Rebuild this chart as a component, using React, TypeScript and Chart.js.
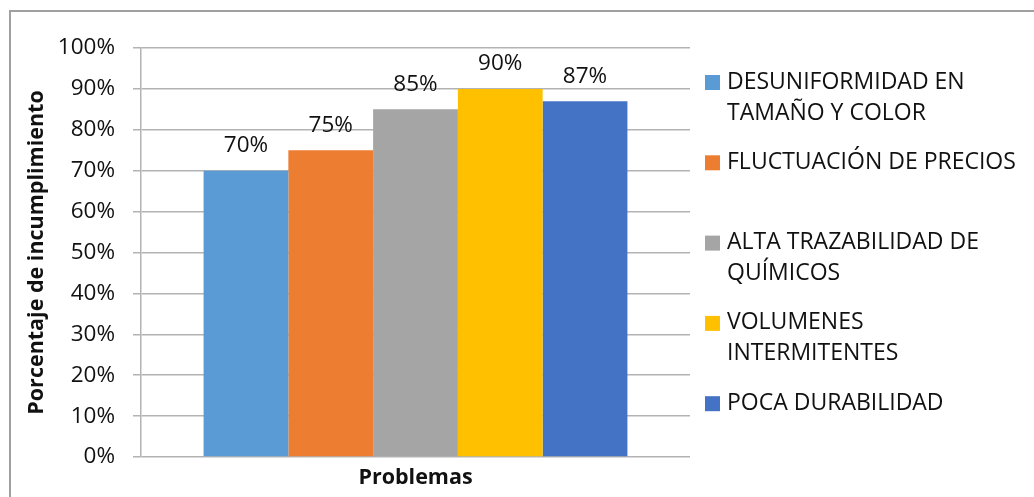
import React, { useEffect, useRef } from "react";
import { Chart, registerables } from "chart.js";

Chart.register(...registerables);

const categories = [""];
const seriesLabels = [
  "DESUNIFORMIDAD EN TAMAÑO Y COLOR",
  "FLUCTUACIÓN DE PRECIOS",
  "ALTA TRAZABILIDAD DE QUÍMICOS",
  "VOLUMENES INTERMITENTES",
  "POCA DURABILIDAD",
];
const legendLines = [
  ["DESUNIFORMIDAD EN", "TAMAÑO Y COLOR"],
  ["FLUCTUACIÓN DE PRECIOS"],
  ["ALTA TRAZABILIDAD DE", "QUÍMICOS"],
  ["VOLUMENES", "INTERMITENTES"],
  ["POCA DURABILIDAD"],
];
const seriesValues = [0.7, 0.75, 0.85, 0.9, 0.87];
const seriesColors = ["#5B9BD5", "#ED7D31", "#A5A5A5", "#FFC000", "#4472C4"];
const yTitle = "Porcentaje de incumplimiento";
const xTitle = "Problemas";

const FONT = "'Open Sans', 'Noto Sans', sans-serif";
const TEXT = "#111111";
const GRID = "#b3b3b3";

const labelPlugin = {
  id: "barLabels",
  afterDatasetsDraw(chart: any) {
    const ctx = chart.ctx;
    ctx.save();
    ctx.font = `22.5px ${FONT}`;
    ctx.fillStyle = TEXT;
    ctx.textAlign = "center";
    ctx.textBaseline = "middle";
    chart.data.datasets.forEach((ds: any, i: number) => {
      const meta = chart.getDatasetMeta(i);
      meta.data.forEach((bar: any, j: number) => {
        const v = ds.data[j];
        ctx.fillText(Math.round(v * 100) + "%", bar.x, bar.y - 25);
      });
    });
    ctx.restore();
  },
};

const legendPlugin = {
  id: "sideLegend",
  afterDraw(chart: any) {
    const ctx = chart.ctx;
    ctx.save();
    ctx.font = `23px ${FONT}`;
    ctx.textBaseline = "middle";
    ctx.textAlign = "left";
    const x0 = chart.chartArea.right + 15;
    const y0 = 82;
    const slot = 80.3;
    const lineH = 31;
    legendLines.forEach((lines, i) => {
      const y = y0 + i * slot;
      ctx.fillStyle = seriesColors[i];
      ctx.fillRect(x0, y - 7, 15, 15);
      ctx.fillStyle = TEXT;
      lines.forEach((t, k) => ctx.fillText(t, x0 + 22, y + k * lineH));
    });
    ctx.restore();
  },
};

export default function App() {
  const ref = useRef<HTMLCanvasElement>(null);
  useEffect(() => {
    const chart = new Chart(ref.current as HTMLCanvasElement, {
      type: "bar",
      data: {
        labels: categories,
        datasets: seriesLabels.map((l, i) => ({
          label: l,
          data: [seriesValues[i]],
          backgroundColor: seriesColors[i],
          borderWidth: 0,
          barPercentage: 1,
          categoryPercentage: 0.772,
        })),
      },
      options: {
        animation: false,
        responsive: true,
        maintainAspectRatio: false,
        layout: { padding: { left: 0, right: 344, top: 48, bottom: 0 } },
        plugins: { legend: { display: false }, tooltip: { enabled: false } },
        scales: {
          x: {
            grid: { display: false },
            border: { display: false },
            ticks: { display: false },
            title: {
              display: true,
              text: xTitle,
              color: TEXT,
              font: { family: FONT, size: 21.5, weight: "bold" },
              padding: { top: 6, bottom: 6 },
            },
            afterFit(scale: any) {
              scale.height = 40;
            },
          },
          y: {
            min: 0,
            max: 1,
            ticks: {
              stepSize: 0.1,
              padding: 18,
              color: TEXT,
              font: { family: FONT, size: 22.5 },
              callback: (v: any) => Math.round(Number(v) * 100) + "%",
            },
            grid: { color: GRID, lineWidth: 1.5, tickLength: 8, drawTicks: true },
            border: { color: GRID, width: 1.5 },
            title: {
              display: true,
              text: yTitle,
              color: TEXT,
              font: { family: FONT, size: 21.5, weight: "bold" },
              padding: { top: 24, bottom: 24 },
            },
            afterFit(scale: any) {
              scale.width = 141;
            },
          },
        },
      },
      plugins: [labelPlugin, legendPlugin],
    } as any);
    return () => chart.destroy();
  }, []);
  return (
    <div style={{ position: "fixed", left: 0, top: 0, width: 1034, height: 497, background: "#fff", overflow: "hidden" }}>
      <canvas ref={ref} />
      <div
        style={{
          position: "absolute",
          left: 9,
          top: 10,
          width: 1100,
          height: 600,
          borderLeft: "2px solid #a0a0a0",
          borderTop: "2px solid #a0a0a0",
          pointerEvents: "none",
        }}
      />
    </div>
  );
}
